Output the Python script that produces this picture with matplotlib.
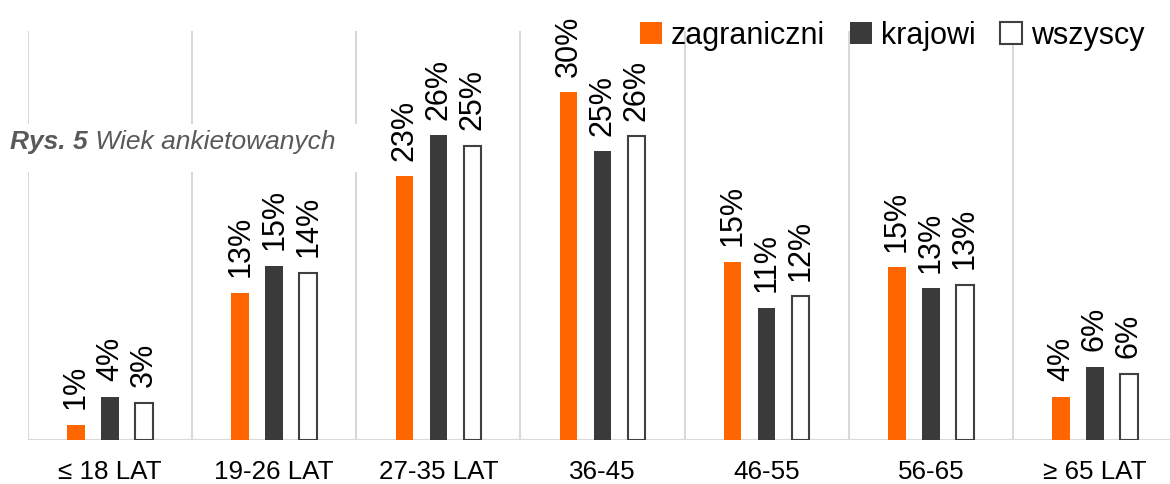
import matplotlib
matplotlib.use("Agg")
import matplotlib.pyplot as plt
import numpy as np
from matplotlib.patches import Patch, Rectangle

plt.rcParams['font.family'] = ['Liberation Sans', 'DejaVu Sans']

categories = ["≤ 18 LAT", "19-26 LAT", "27-35 LAT", "36-45", "46-55", "56-65", "≥ 65 LAT"]
zagraniczni = [1.3, 12.7, 22.75, 30.0, 15.4, 14.9, 3.75]
krajowi = [3.75, 15.05, 26.3, 24.9, 11.4, 13.1, 6.3]
wszyscy = [3.2, 14.4, 25.4, 26.2, 12.4, 13.4, 5.7]
series_names = ["zagraniczni", "krajowi", "wszyscy"]

W, H = 1170, 485
fig = plt.figure(figsize=(11.7, 4.85), dpi=100)
ax = fig.add_axes([28/W, 44/H, 1149/W, 409/H])

x = np.arange(len(categories))
w = 0.107
off = 0.207
face = ["#FF6600", "#3A3A3A", "white"]
edge = ["#FF6600", "#3A3A3A", "#404040"]
for i, vals in enumerate([zagraniczni, krajowi, wszyscy]):
    xs = x + (i - 1) * off
    ax.bar(xs, vals, width=w, color=face[i], edgecolor=edge[i],
           linewidth=1.5 if i == 2 else 0, zorder=3)
    for xi, v in zip(xs, vals):
        ax.annotate(f"{round(v)}%", (xi, v), xytext=(0, 12), textcoords="offset points",
                    rotation=90, ha="center", va="bottom", fontsize=22, color="black", zorder=5)

ax.set_xlim(-0.5, len(categories) - 0.5)
ax.set_ylim(0, 35.3)
for b in np.arange(-0.5, len(categories) - 0.5, 1.0):
    ax.axvline(b, color="#D9D9D9", linewidth=1.5, zorder=1)
ax.axhline(0, color="#D9D9D9", linewidth=1.5, zorder=2)
for s in ax.spines.values():
    s.set_visible(False)
ax.set_yticks([])
ax.set_xticks(x)
ax.set_xticklabels(categories, fontsize=18.7)
ax.tick_params(axis="x", length=0, pad=14)

handles = [Patch(facecolor=face[i], edgecolor=edge[i], linewidth=1.5 if i == 2 else 0)
           for i in range(3)]
fig.legend(handles, series_names, loc="upper right", bbox_to_anchor=(1166/W, 1.0),
           ncol=3, frameon=False, fontsize=22, handlelength=0.72, handleheight=0.72,
           handletextpad=0.3, columnspacing=0.8, borderaxespad=0.3)

# white box behind the caption (covers gridlines)
fig.add_artist(Rectangle((0, 1 - 173/H), 365/W, 48/H, transform=fig.transFigure,
                         facecolor="white", edgecolor="none", zorder=3))
t = fig.text(10/W, 1 - 142/H, "Rys. 5", fontsize=19, fontweight="bold",
             fontstyle="italic", color="#595959", va="center", ha="left", zorder=4)
fig.canvas.draw()
bb = t.get_window_extent()
fig.text(bb.x1 / W, 1 - 142/H, " Wiek ankietowanych", fontsize=19,
         fontstyle="italic", color="#595959", va="center", ha="left", zorder=4)

fig.savefig("out.png", dpi=100)
